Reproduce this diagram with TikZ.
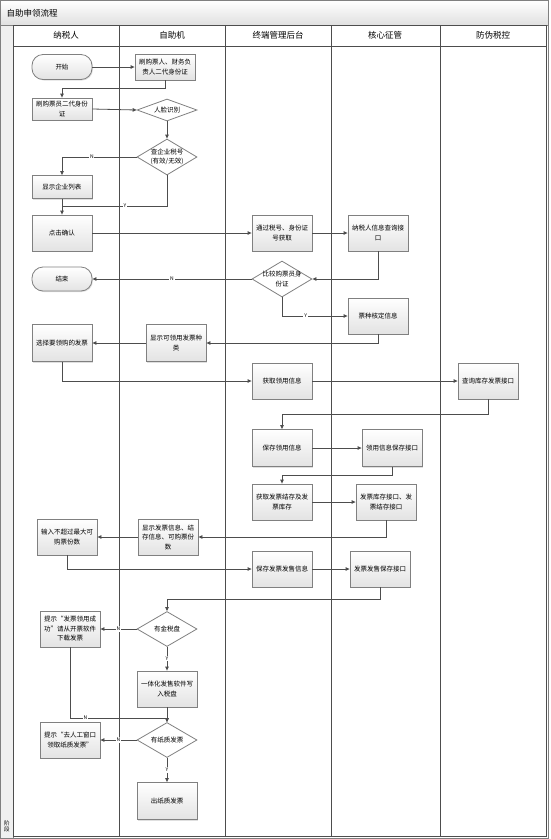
\documentclass[tikz,border=0pt]{standalone}
\usepackage{fontspec}
\setmainfont{Noto Sans CJK SC}
\usetikzlibrary{arrows.meta, shapes.geometric, shadows}
\definecolor{cline}{HTML}{4D4D4D}
\definecolor{cedge}{HTML}{808080}
\definecolor{cfill}{HTML}{E3E3E3}
\tikzset{
  every picture/.style={x=1pt, y=1pt},
  box/.style={draw=cedge, line width=0.8pt, top color=white, bottom color=cfill,
    drop shadow={shadow xshift=1pt, shadow yshift=-1pt, fill=black!25},
    minimum width=60pt, minimum height=36pt, text width=56pt, align=center,
    inner sep=0pt, font=\fontsize{6.5}{9.5}\selectfont},
  term/.style={box, rounded corners=11pt, minimum height=25pt},
  dec/.style={diamond, shape aspect=1.67, draw=cedge, line width=0.8pt, fill=white,
    minimum width=60pt, minimum height=36pt, inner sep=-2pt, align=center,
    font=\fontsize{6.5}{9.5}\selectfont},
  arrow/.style={-{Triangle[length=4pt, width=3.5pt]}, draw=cline, line width=0.8pt},
  yn/.style={fill=white, inner sep=0.8pt, font=\fontsize{5}{5}\selectfont},
  lane/.style={font=\fontsize{8.5}{10}\selectfont},
}
\begin{document}
\begin{tikzpicture}
  \useasboundingbox (0,0) rectangle (550,-839);
  % frame, title bar and lanes
  \shade[top color=white, bottom color=black!12, draw=cedge] (0.5,-0.5) rectangle (548.5,-25);
  \node[lane, anchor=west] (title) at (3,-13) {自助申领流程};
  \draw[cedge, fill=black!6] (0.5,-25) rectangle (13,-838.5);
  \draw[cedge] (0.5,-0.5) rectangle (548.5,-838.5);
  \draw[cline, line width=0.9pt] (13,-25) rectangle (546,-836);
  \draw[cline, line width=0.9pt] (13,-46) -- (546,-46);
  \foreach \x in {119,225,331,440}
    \draw[cline, line width=0.9pt] (\x,-25) -- (\x,-836);
  \foreach \x/\n/\t in {66/h1/纳税人, 172/h2/自助机, 278/h3/终端管理后台, 385/h4/核心征管, 493/h5/防伪税控}
    \node[lane] (\n) at (\x,-35.5) {\t};
  \node[font=\fontsize{5.5}{6}\selectfont, align=center] (stage) at (7,-826) {阶\\段};

  % steps
  \node[term] (start) at (62,-67) {开始};
  \node[box, minimum height=26pt] (swipe2) at (165,-67) {刷购票人、财务负\\责人二代身份证};
  \node[box, minimum height=22pt] (swipe1) at (62,-109) {刷购票员二代身份\\证};
  \node[dec, minimum height=22pt] (face) at (167,-110) {人脸识别};
  \node[dec] (taxno) at (167,-157) {查企业税号\\(有效/无效)};
  \node[box, minimum height=23pt] (list) at (62,-187) {显示企业列表};
  \node[box] (confirm) at (62,-233) {点击确认};
  \node[box] (fetch) at (282,-233) {通过税号、身份证\\号获取};
  \node[box] (query) at (378,-233) {纳税人信息查询接\\口};
  \node[dec] (cmp) at (282,-279) {比较购票员身\\份证};
  \node[term, minimum height=24pt] (finish) at (62,-279) {结束};
  \node[box] (kind) at (378,-316) {票种核定信息};
  \node[box, minimum height=37pt] (showkind) at (176,-343) {显示可领用发票种\\类};
  \node[box, minimum height=37pt] (pick) at (62,-343) {选择要领购的发票};
  \node[box] (getuse) at (282,-381) {获取领用信息};
  \node[box] (stock) at (488,-381) {查询库存发票接口};
  \node[box, minimum height=37pt] (saveuse) at (282,-448) {保存领用信息};
  \node[box, minimum height=37pt] (saveapi) at (392,-448) {领用信息保存接口};
  \node[box] (getbal) at (282,-502) {获取发票结存及发\\票库存};
  \node[box] (balapi) at (386,-502) {发票库存接口、发\\票结存接口};
  \node[box] (showinfo) at (168,-537) {显示发票信息、结\\存信息、可购票份\\数};
  \node[box] (input) at (67,-537) {输入不超过最大可\\购票份数};
  \node[box] (savesale) at (282,-569) {保存发票发售信息};
  \node[box] (saleapi) at (380,-569) {发票发售保存接口};
  \node[dec, minimum height=35pt] (disk) at (167,-629) {有金税盘};
  \node[box] (hint1) at (70,-629) {提示“发票领用成\\功”请从开票软件\\下载发票};
  \node[box] (write) at (167,-689) {一体化发售软件写\\入税盘};
  \node[dec, minimum height=35pt] (paper) at (167,-740) {有纸质发票};
  \node[box] (hint2) at (70,-740) {提示“去人工窗口\\领取纸质发票”};
  \node[box, minimum height=37pt] (out) at (167,-801) {出纸质发票};

  % connectors
  \foreach \f/\t in {start/swipe2, swipe1/face, confirm/fetch, fetch/query, getuse/stock,
                     saveuse/saveapi, getbal/balapi, savesale/saleapi}
    \draw[arrow] (\f.east) -- (\t.west);
  \foreach \f/\t in {showkind/pick, showinfo/input}
    \draw[arrow] (\f.west) -- (\t.east);
  \foreach \f/\t in {face/taxno, write/paper}
    \draw[arrow] (\f.south) -- (\t.north);
  \draw[arrow] (swipe2.south) -- (swipe2.south |- 0,-88) -| (swipe1.north);
  \draw[arrow] (taxno.west) -| node[yn, pos=0.3] {N} (list.north);
  \draw[cline, line width=0.8pt] (list.south) -- (list.south |- 0,-206);
  \draw[arrow] (taxno.south) -- (taxno.south |- 0,-206) -| node[yn, pos=0.2] {Y} (confirm.north);
  \draw[arrow] (query.south) |- (cmp.east);
  \draw[arrow] (cmp.west) -- node[yn] {N} (finish.east);
  \draw[arrow] (cmp.south) |- node[yn, pos=0.68] {Y} (kind.west);
  \draw[arrow] (kind.south) |- (showkind.east);
  \draw[arrow] (pick.south) |- (getuse.west);
  \draw[arrow] (stock.south) -- (stock.south |- 0,-414) -| (saveuse.north);
  \draw[arrow] (saveapi.south) -- (saveapi.south |- 0,-475) -| (getbal.north);
  \draw[arrow] (balapi.south) |- (showinfo.east);
  \draw[arrow] (input.south) |- (savesale.west);
  \draw[arrow] (saleapi.south) -- (saleapi.south |- 0,-599) -| (disk.north);
  \draw[arrow] (disk.west) -- node[yn] {N} (hint1.east);
  \draw[arrow] (disk.south) -- node[yn] {Y} (write.north);
  \draw[arrow] (hint1.south) -- (hint1.south |- 0,-718) -| node[yn, pos=0.08] {N} (paper.north);
  \draw[arrow] (paper.west) -- node[yn] {N} (hint2.east);
  \draw[arrow] (paper.south) -- node[yn] {Y} (out.north);
\end{tikzpicture}
\end{document}
